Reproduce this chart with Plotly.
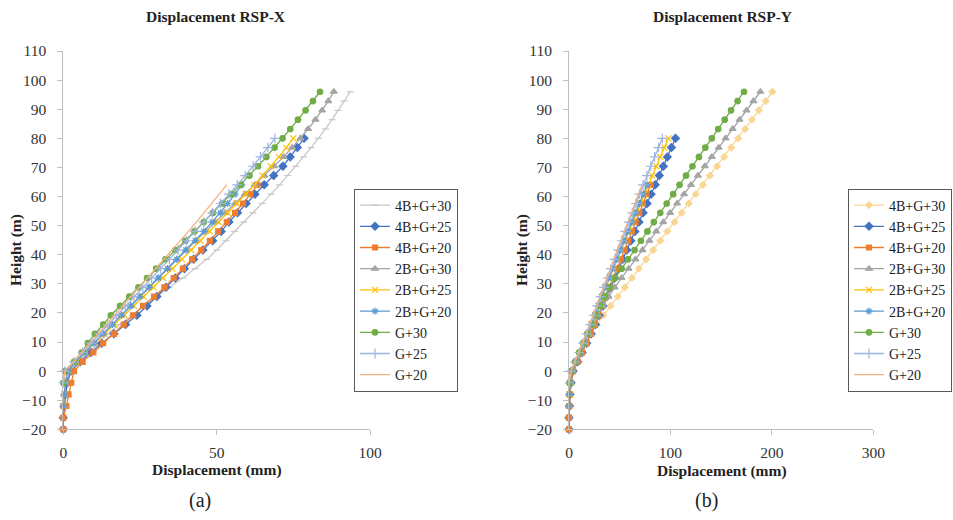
import plotly.graph_objects as go

# ---------------- data ----------------
SERIES = ["4B+G+30", "4B+G+25", "4B+G+20", "2B+G+30", "2B+G+25", "2B+G+20", "G+30", "G+25", "G+20"]

FLOOR_LEVELS = [0, 3.2, 6.4, 9.6, 12.8, 16, 19.2, 22.4, 25.6, 28.8, 32, 35.2, 38.4, 41.6, 44.8,
                48, 51.2, 54.4, 57.6, 60.8, 64, 67.2, 70.4, 73.6, 76.8, 80, 83.2, 86.4, 89.6, 92.8, 96]
BASEMENT_4B = [-20, -16, -12, -8, -4]
BASEMENT_2B = [-12, -8, -4]
BASEMENT_G = [-4]
STOREYS = [30, 25, 20, 30, 25, 20, 30, 25, 20]
BASEMENTS = [BASEMENT_4B, BASEMENT_4B, BASEMENT_4B, BASEMENT_2B, BASEMENT_2B, BASEMENT_2B,
             BASEMENT_G, BASEMENT_G, BASEMENT_G]

# Displacement (mm), RSP-X
X_4B30 = [0, 0, 0.3, 0.6, 1.0, 2, 4.8, 8.3, 11.5, 14.5, 18.5, 22.5, 26.5, 30.5, 34.5, 39, 43, 46.8, 50,
          53, 55.8, 58.8, 61.8, 64.8, 67.7, 70.5, 73.2, 75.8, 78.3, 80.8, 83.2, 85.5, 87.6, 89.6, 91.6, 93.6]
X_4B25 = [0, 0, 0.3, 0.8, 1.3, 2.5, 5.5, 9, 12.5, 16.5, 20.3, 24, 27.3, 30.5, 33.5, 36.5, 39.5, 42.5,
          45.5, 48.7, 51.5, 54, 56.8, 59.6, 62.5, 65.5, 68.6, 71.6, 74, 76.3, 78.5]
X_4B20 = [0, 0, 1, 1.7, 2.6, 3.5, 6.3, 9.8, 13, 16.5, 19.7, 22.8, 26, 29.6, 33, 36, 39, 42, 45, 47.8,
          50.5, 53.3, 56, 58.6, 61, 63.3]
X_2B30 = [0, 0.3, 0.7, 1.5, 4, 7, 10, 13, 16, 19, 22, 25, 28, 31, 34, 37, 40, 43.2, 46.4, 49.6, 52.8,
          56, 59.2, 62.4, 65.6, 68.8, 71.8, 74.6, 77.3, 79.8, 82.2, 84.4, 86.4, 88.2]
X_2B25 = [0, 0.3, 0.7, 1.5, 4.2, 7.2, 10.3, 13.5, 16.7, 19.9, 23, 26.2, 29.4, 32.5, 35.6, 38.7, 41.7,
          44.7, 47.7, 50.7, 53.7, 56.6, 59.5, 62.3, 65, 67.7, 70.3, 72.7, 75]
X_2B20 = [0, 0.3, 0.7, 1.5, 4, 7, 10, 13, 16, 19, 22, 25, 28, 31, 34, 37, 40, 43, 45.8, 48.5, 51.2,
          53.6, 56, 58.2]
X_G30 = [0, 0.5, 3.5, 6, 8, 10.3, 13, 15.5, 18.5, 21.5, 24.5, 27.3, 30.3, 33.3, 36.5, 39.8, 42.8, 45.8,
         48.8, 51.8, 54.8, 57.8, 60.7, 63.5, 66.2, 68.9, 71.5, 74, 76.5, 79, 81.4, 83.7]
X_G25 = [0, 0.5, 3.5, 6.3, 9, 11.7, 14.5, 17.3, 20.2, 23, 25.9, 28.8, 31.7, 34.6, 37.4, 40.2, 43, 45.8,
         48.6, 51.3, 54, 56.7, 59.3, 61.9, 64.3, 66.7, 69]
X_G20 = [0, 0.5, 3.3, 6, 8.7, 11.4, 14.1, 16.8, 19.5, 22.2, 24.9, 27.6, 30.3, 33, 35.6, 38.2, 40.8,
         43.4, 45.9, 48.4, 50.9, 53.3]

# Displacement (mm), RSP-Y
Y_4B30 = [0, 0, 0.5, 1, 1.5, 3.5, 8, 12.5, 17, 22, 27.5, 34, 41, 48, 55, 62, 69, 76, 83, 90, 97, 104,
          111, 118, 125, 132, 139, 146, 153, 160, 166.8, 173.6, 180.4, 187.2, 194, 200.5]
Y_4B25 = [0, 0, 0.5, 1, 2, 4, 8.5, 13, 17.5, 21.8, 26, 29.8, 33.6, 37.3, 41, 45, 49, 53, 57, 61, 65,
          69, 73, 77, 81, 85, 89, 93, 97, 101, 105]
Y_4B20 = [0, 0, 0.5, 1, 2, 4, 8.5, 13, 17.5, 21.5, 25.5, 29, 33, 36.5, 40, 43.7, 47.4, 51, 54.7, 58.4,
          62, 65.6, 69.2, 72.8, 76.4, 80.5]
Y_2B30 = [0, 0.5, 1.2, 2.5, 6.5, 10.5, 15, 19.5, 24, 28.5, 33.5, 39, 45, 51.8, 58.7, 65.5, 72.4, 79.2,
          86, 92.9, 99.7, 106.6, 113.4, 120.2, 127.1, 133.9, 140.8, 147.6, 154.4, 161.3, 168.1, 175,
          181.8, 188.7]
Y_2B25 = [0, 0.5, 1.2, 3, 7, 11, 15, 18.7, 22.3, 25.8, 29.3, 32.7, 36, 39.9, 43.8, 47.6, 51.4, 55.2,
          59, 62.8, 66.6, 70.4, 74.2, 78, 82, 86, 90, 94, 98]
Y_2B20 = [0, 0.5, 1.2, 3, 7, 11, 14.8, 18.4, 22, 25.4, 28.8, 32.2, 35.5, 39.3, 43, 46.8, 50.6, 54.4,
          58.1, 61.9, 65.7, 69.4, 73.2, 77]
Y_G30 = [0.5, 2, 6, 10, 14, 18, 22.5, 26.5, 30.5, 35, 40, 45.5, 51.9, 58.2, 64.6, 70.9, 77.3, 83.6, 90,
         96.3, 102.7, 109, 115.4, 121.7, 128.1, 134.4, 140.8, 147.1, 153.5, 159.8, 166.2, 172.5]
Y_G25 = [0.3, 2, 6, 10, 13.8, 17.4, 21, 24.4, 27.8, 31.2, 34.5, 38, 41.5, 45, 48.5, 52, 55.5, 59, 62.5,
         66, 69.5, 73, 76.8, 80.6, 84.4, 88.2, 92]
Y_G20 = [0.3, 2, 5.8, 9.6, 13.3, 16.8, 20.3, 23.7, 27, 30.3, 33.5, 37, 40.5, 44, 47.5, 51, 54.5, 58,
         61.5, 65, 68.5, 72]

DISP_X = [X_4B30, X_4B25, X_4B20, X_2B30, X_2B25, X_2B20, X_G30, X_G25, X_G20]
DISP_Y = [Y_4B30, Y_4B25, Y_4B20, Y_2B30, Y_2B25, Y_2B20, Y_G30, Y_G25, Y_G20]

X_TICKS_A = [0, 50, 100]
X_TICKS_B = [0, 100, 200, 300]

# ---------------- styles ----------------
COLORS_A = ["#C8C8C8", "#4472C4", "#ED7D31", "#A5A5A5", "#FFC000", "#5B9BD5", "#70AD47", "#9DB4DE", "#F4B183"]
COLORS_B = ["#F9D694", "#4472C4", "#ED7D31", "#A5A5A5", "#FFC000", "#5B9BD5", "#70AD47", "#9DB4DE", "#F4B183"]
SYMBOLS_A = ["line-ew-open", "diamond", "square", "triangle-up", "x-thin-open", "asterisk-open",
             "circle", "cross-thin-open", None]
SYMBOLS_B = ["diamond", "diamond", "square", "triangle-up", "x-thin-open", "asterisk-open",
             "circle", "cross-thin-open", None]
SIZES = [5, 6, 5, 6, 6, 6, 5.5, 7, 5]

SERIF = "Liberation Serif"
W, H = 953, 520

fig = go.Figure()


def add_series(disp_list, colors, symbols, xaxis, yaxis, legend):
    for i, name in enumerate(SERIES):
        heights = BASEMENTS[i] + FLOOR_LEVELS[:STOREYS[i] + 1]
        sym = symbols[i]
        kw = dict(mode="lines")
        if sym is not None:
            kw = dict(mode="lines+markers",
                      marker=dict(symbol=sym, size=SIZES[i], color=colors[i],
                                  line=dict(color=colors[i], width=1.2)))
        fig.add_trace(go.Scatter(x=disp_list[i], y=heights, name=name,
                                 line=dict(color=colors[i], width=1.3),
                                 xaxis=xaxis, yaxis=yaxis, legend=legend,
                                 cliponaxis=False, **kw))


add_series(DISP_X, COLORS_A, SYMBOLS_A, "x", "y", "legend")
add_series(DISP_Y, COLORS_B, SYMBOLS_B, "x2", "y2", "legend2")


def px(x):
    return x / W


def py(y):
    return 1 - y / H


axis_common = dict(showline=True, linecolor="#BFBFBF", linewidth=1, ticks="outside", ticklen=5,
                   tickcolor="#BFBFBF", showgrid=False, zeroline=False,
                   tickfont=dict(family=SERIF, size=15.5, color="#333333"))

y_dom = [py(429.3), py(51)]
legend_font = dict(family=SERIF, size=14, color="#222222")
fig.update_layout(
    width=W, height=H, margin=dict(l=0, r=0, t=0, b=0, autoexpand=False),
    paper_bgcolor="white", plot_bgcolor="white", showlegend=True,
    xaxis=dict(domain=[px(63.3), px(370)], range=[0, 100], tickvals=X_TICKS_A, anchor="y",
               ticklabelstandoff=4, **axis_common),
    yaxis=dict(domain=y_dom, range=[-20, 110], dtick=10, anchor="x", ticklabelstandoff=8, **axis_common),
    xaxis2=dict(domain=[px(569), px(873.3)], range=[0, 300], tickvals=X_TICKS_B, anchor="y2",
                ticklabelstandoff=4, **axis_common),
    yaxis2=dict(domain=y_dom, range=[-20, 110], dtick=10, anchor="x2", ticklabelstandoff=8, **axis_common),
    legend=dict(x=px(354), y=py(290), xanchor="left", yanchor="middle", bgcolor="white",
                bordercolor="#595959", borderwidth=1, itemwidth=30, font=legend_font),
    legend2=dict(x=px(952), y=py(290), xanchor="right", yanchor="middle", bgcolor="white",
                 bordercolor="#595959", borderwidth=1, itemwidth=30, font=legend_font),
)

bold = dict(family=SERIF, size=15.5, color="#222222")
annos = [
    ("<b>Displacement RSP-X</b>", 216, 17, 0, bold),
    ("<b>Displacement RSP-Y</b>", 722, 17, 0, bold),
    ("<b>Height (m)</b>", 16, 250, -90, bold),
    ("<b>Height (m)</b>", 522, 250, -90, bold),
    ("<b>Displacement (mm)</b>", 217, 470, 0, bold),
    ("<b>Displacement (mm)</b>", 722, 471, 0, bold),
    ("(a)", 200, 500, 0, dict(family=SERIF, size=20, color="#222222")),
    ("(b)", 706, 500, 0, dict(family=SERIF, size=20, color="#222222")),
]
for text, x, y, ang, font in annos:
    fig.add_annotation(text=text, x=px(x), y=py(y), xref="paper", yref="paper",
                       showarrow=False, textangle=ang, font=font,
                       xanchor="center", yanchor="middle")

fig.write_html("out.html")
